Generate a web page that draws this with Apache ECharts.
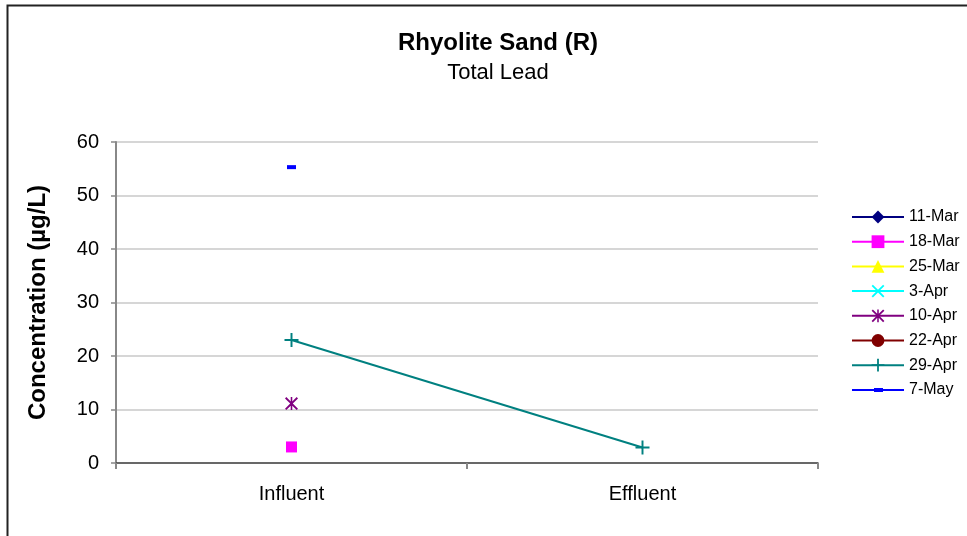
<!DOCTYPE html>
<html><head><meta charset="utf-8">
<script src="https://cdn.jsdelivr.net/npm/echarts@6/dist/echarts.min.js"></script>
<style>html,body{margin:0;padding:0;background:#fff}#c{width:967px;height:536px}</style>
</head><body><div id="c"></div>
<script>
var categories = ['Influent', 'Effluent'];
var seriesNames = ['11-Mar', '18-Mar', '25-Mar', '3-Apr', '10-Apr', '22-Apr', '29-Apr', '7-May'];
var v11Mar = [null, null];
var v18Mar = [3, null];
var v25Mar = [null, null];
var v3Apr = [null, null];
var v10Apr = [11.1, null];
var v22Apr = [null, null];
var v29Apr = [23, 2.9];
var v7May = [55.3, null];
var yTicks = [0, 10, 20, 30, 40, 50, 60];

var values = [v11Mar, v18Mar, v25Mar, v3Apr, v10Apr, v22Apr, v29Apr, v7May];
var colors = ['#000080', '#FF00FF', '#FFFF00', '#00FFFF', '#800080', '#800000', '#008080', '#0000FF'];
var symbols = ['diamond', 'rect', 'triangle', 'path://M1,0L5,4L9,0L10,1L6,5L10,9L9,10L5,6L1,10L0,9L4,5L0,1Z',
  'path://M1,0L5,4L9,0L10,1L6,5L10,9L9,10L5,6L1,10L0,9L4,5L0,1ZM4.4,0H5.6V10H4.4Z', 'circle',
  'path://M4.3,0H5.7V4.3H10V5.7H5.7V10H4.3V5.7H0V4.3H4.3Z', 'rect'];
var sizes = [11, 11, 12, 12, 13, 12, 14, [9, 4]];

var chart = echarts.init(document.getElementById('c'));
var series = seriesNames.map(function (n, i) {
  return {
    name: n, type: 'line', data: values[i], connectNulls: false,
    symbol: symbols[i], symbolSize: sizes[i], showAllSymbol: true,
    lineStyle: { color: colors[i], width: 2 },
    itemStyle: { color: colors[i] },
    emphasis: { disabled: true }, animation: false
  };
});
var legendData = seriesNames.map(function (n) {
  if (n === '7-May') {
    return { name: n, icon: 'path://M0,0L0,0ZM52,16L52,16ZM0,7H52V9H0ZM22,6H31V10H22Z' };
  }
  return { name: n };
});
chart.setOption({
  animation: false,
  textStyle: { fontFamily: 'Liberation Sans, Arial, sans-serif' },
  title: [
    { text: 'Rhyolite Sand (R)', left: 493, top: 26, textAlign: 'center',
      textStyle: { fontSize: 24, fontWeight: 'bold', color: '#000', fontFamily: 'Liberation Sans' } },
    { text: 'Total Lead', left: 493, top: 57, textAlign: 'center',
      textStyle: { fontSize: 22, fontWeight: 'normal', color: '#000', fontFamily: 'Liberation Sans' } }
  ],
  graphic: [{ type: 'rect', shape: { x: 7.5, y: 5.5, width: 1000, height: 600 },
    style: { fill: null, stroke: '#222', lineWidth: 2 }, silent: true }],
  legend: {
    orient: 'vertical', left: 846, top: 204, itemGap: 8.7, itemWidth: 52, itemHeight: 16,
    data: legendData,
    textStyle: { fontSize: 16, color: '#000', fontFamily: 'Liberation Sans' }
  },
  grid: { left: 116, right: 149, top: 142, bottom: 73 },
  xAxis: {
    type: 'category', data: categories, boundaryGap: true,
    axisLine: { lineStyle: { color: '#444', width: 1.5 } },
    axisTick: { show: true, length: 6, lineStyle: { color: '#888', width: 2 } },
    axisLabel: { fontSize: 20, color: '#000', margin: 21, fontFamily: 'Liberation Sans' }
  },
  yAxis: {
    type: 'value', min: 0, max: 60, interval: 10,
    name: 'Concentration (µg/L)', nameLocation: 'middle', nameGap: 66,
    nameTextStyle: { fontSize: 24, fontWeight: 'bold', color: '#000', fontFamily: 'Liberation Sans' },
    axisLine: { show: true, lineStyle: { color: '#888', width: 2 } },
    axisTick: { show: true, length: 5, inside: false, lineStyle: { color: '#888', width: 1.5 } },
    axisLabel: { fontSize: 20, color: '#000', margin: 17, fontFamily: 'Liberation Sans',
      formatter: function (v) { return yTicks.indexOf(v) >= 0 ? String(v) : ''; } },
    splitLine: { lineStyle: { color: '#c8c8c8', width: 1.5 } }
  },
  series: series
});
</script></body></html>
